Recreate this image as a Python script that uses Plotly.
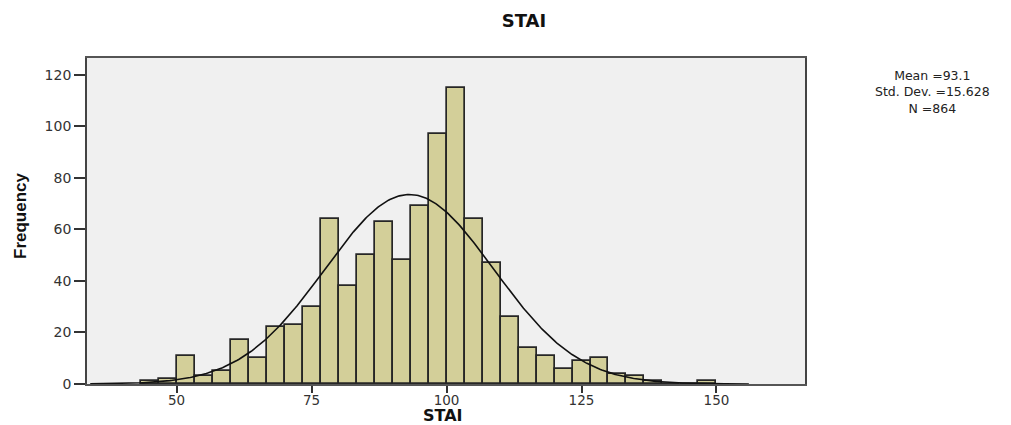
import math
import plotly.graph_objects as go

# ---- data ----
bin_lower = 43.3333          # lower edge of the first bin
bin_width = 10 / 3           # SPSS bin width
counts = [1, 2, 11, 3, 5, 17, 10, 22, 23, 30, 64, 38, 50, 63, 48, 69, 97, 115,
          64, 47, 26, 14, 11, 6, 9, 10, 4, 3, 1, 0, 0, 1]
mean_val = 93.1
sd_val = 15.628
n_val = 864
x_ticks = [50, 75, 100, 125, 150]
y_ticks = [0, 20, 40, 60, 80, 100, 120]

centers = [bin_lower + bin_width * (i + 0.5) for i in range(len(counts))]

# fitted normal curve (defined by the displayed mean / sd / N)
curve_x = [34 + 0.25 * i for i in range(int((156 - 34) / 0.25) + 1)]
curve_y = [n_val * bin_width / (sd_val * math.sqrt(2 * math.pi)) *
           math.exp(-0.5 * ((x - mean_val) / sd_val) ** 2) for x in curve_x]

# page body has an 8px margin: work in page coordinates minus 8
OFF = 8
W, H = 1011 - OFF, 425 - OFF
L, R, T, B = 87 - OFF, 805 - OFF, 58 - OFF, 384 - OFF


def px(xp):
    return (xp - OFF - L) / (R - L)


def py(yp):
    return (B - (yp - OFF)) / (B - T)


fig = go.Figure()
fig.add_trace(go.Bar(
    x=centers, y=counts, width=bin_width,
    marker=dict(color="#D3CF99", line=dict(color="#262626", width=1.7)),
    showlegend=False, hoverinfo="x+y"))
fig.add_trace(go.Scatter(
    x=curve_x, y=curve_y, mode="lines",
    line=dict(color="#111111", width=1.6), showlegend=False))

fig.update_layout(
    width=W, height=H,
    margin=dict(l=L, r=W - R, t=T, b=H - B, autoexpand=False),
    paper_bgcolor="white", plot_bgcolor="#F0F0F0",
    bargap=0,
    title=dict(text="<b>STAI</b>", x=(524 - OFF) / W, xanchor="center",
               y=1 - (21 - OFF) / H, yanchor="middle",
               font=dict(family="DejaVu Sans", size=18, color="#111")),
    font=dict(family="DejaVu Sans", color="#222"),
)
fig.update_xaxes(
    range=[33.4, 166.4], tickvals=x_ticks, ticktext=[str(v) for v in x_ticks],
    ticks="outside", ticklen=7, tickcolor="#333", tickwidth=1.5,
    ticklabelstandoff=-4,
    showgrid=False, zeroline=False, automargin=False,
    showline=True, linecolor="#555", linewidth=1.5, mirror=True,
    tickfont=dict(family="DejaVu Sans", size=13.5, color="#333"))
fig.update_yaxes(
    range=[0, 126.5], tickvals=y_ticks, ticktext=[str(v) for v in y_ticks],
    ticks="outside", ticklen=11, tickcolor="#333", tickwidth=1.5,
    showgrid=False, zeroline=False, automargin=False,
    showline=True, linecolor="#444", linewidth=1.8, mirror=True,
    tickfont=dict(family="DejaVu Sans", size=14, color="#333"))

# axis titles
fig.add_annotation(text="<b>STAI</b>", xref="paper", yref="paper",
                   x=px(443), y=py(415),
                   xanchor="center", yanchor="middle", showarrow=False,
                   font=dict(family="DejaVu Sans", size=16, color="#111"))
fig.add_annotation(text="<b>Frequency</b>", xref="paper", yref="paper",
                   x=px(20), y=py(216), textangle=-90,
                   xanchor="center", yanchor="middle", showarrow=False,
                   font=dict(family="Liberation Sans Narrow, Liberation Sans", size=17, color="#111"))

# statistics box
fig.add_annotation(text="Mean =93.1<br>Std. Dev. =15.628<br>N =864",
                   xref="paper", yref="paper",
                   x=px(932), y=py(92),
                   xanchor="center", yanchor="middle", align="center",
                   showarrow=False,
                   font=dict(family="DejaVu Sans", size=12.5, color="#222"))

fig.write_html("out.html")
